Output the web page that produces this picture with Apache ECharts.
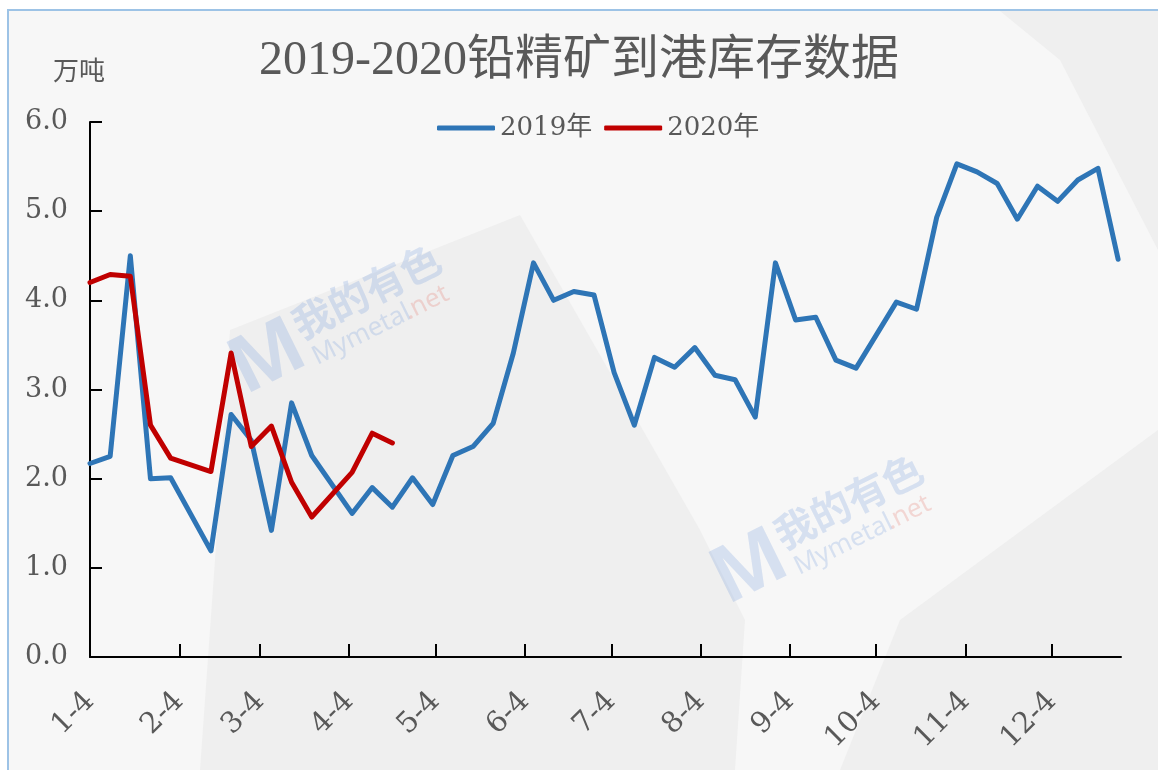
<!DOCTYPE html>
<html>
<head>
<meta charset="utf-8">
<script src="https://cdn.jsdelivr.net/npm/echarts@6/dist/echarts.min.js"></script>
<style>
  html, body { margin: 0; padding: 0; background: #fff; }
  #chart { width: 1158px; height: 770px; }
</style>
</head>
<body>
<div id="chart"></div>
<script>
// 周度日期（按2019年周五排列，2020年数据对齐到同一周位置）
const weeks = [
  '2019-01-04', '2019-01-11', '2019-01-18', '2019-01-25', '2019-02-01',
  '2019-02-15', '2019-02-22', '2019-03-01', '2019-03-08', '2019-03-15', '2019-03-22',
  '2019-04-05', '2019-04-12', '2019-04-19', '2019-04-26',
  '2019-05-03', '2019-05-10', '2019-05-17', '2019-05-24', '2019-05-31',
  '2019-06-07', '2019-06-14', '2019-06-21', '2019-06-28',
  '2019-07-05', '2019-07-12', '2019-07-19', '2019-07-26',
  '2019-08-02', '2019-08-09', '2019-08-16', '2019-08-23', '2019-08-30',
  '2019-09-06', '2019-09-13', '2019-09-20', '2019-09-27',
  '2019-10-04', '2019-10-11', '2019-10-18', '2019-10-25',
  '2019-11-01', '2019-11-08', '2019-11-15', '2019-11-22', '2019-11-29',
  '2019-12-06', '2019-12-13', '2019-12-20', '2019-12-27'
];

// 2019年 铅精矿到港库存（万吨）
const stock2019 = [
  2.17, 2.25, 4.50, 2.00, 2.01,
  1.19, 2.72, 2.43, 1.42, 2.85, 2.26,
  1.61, 1.90, 1.68, 2.01,
  1.71, 2.26, 2.36, 2.62, 3.41,
  4.42, 4.00, 4.10, 4.06,
  3.19, 2.60, 3.36, 3.25,
  3.47, 3.16, 3.11, 2.69, 4.42,
  3.78, 3.81, 3.33, 3.24,
  3.61, 3.98, 3.90, 4.93,
  5.53, 5.44, 5.31, 4.91, 5.28,
  5.11, 5.35, 5.48, 4.46
];

// 2020年 铅精矿到港库存（万吨）
const stock2020 = [
  4.20, 4.29, 4.27, 2.60, 2.23,
  2.08, 3.41, 2.36, 2.59, 1.96, 1.57,
  2.07, 2.51, 2.40
];

// x轴刻度（每月4日）
const monthTicks = [
  '2019-01-04', '2019-02-04', '2019-03-04', '2019-04-04', '2019-05-04', '2019-06-04',
  '2019-07-04', '2019-08-04', '2019-09-04', '2019-10-04', '2019-11-04', '2019-12-04'
];
const monthLabels = ['1-4', '2-4', '3-4', '4-4', '5-4', '6-4', '7-4', '8-4', '9-4', '10-4', '11-4', '12-4'];
const axisEnd = '2019-12-28';

const seriesNames = ['2019年', '2020年'];

// 日期 -> 距1月4日的天数
const DAY = 86400000;
const t0 = Date.UTC(2019, 0, 4);
const dayOf = (s) => {
  const [y, m, d] = s.split('-').map(Number);
  return Math.round((Date.UTC(y, m - 1, d) - t0) / DAY);
};
const tickDays = monthTicks.map(dayOf);

const serifFont = '"DejaVu Serif", "Noto Sans CJK SC", serif';
const textGray = '#595959';

const chart = echarts.init(document.getElementById('chart'));

const watermark = (x, y) => ({
  type: 'group', z: -5, silent: true, x: x, y: y, rotation: 0.46,
  children: [
    { type: 'text', x: 0, y: -50, style: { text: 'M', font: 'bold 78px "Noto Sans"', fill: 'rgba(120,160,220,0.26)' } },
    { type: 'text', x: 75, y: -48, style: { text: '我的有色', font: 'bold 40px "Noto Sans CJK SC"', fill: 'rgba(120,160,220,0.26)' } },
    { type: 'text', x: 78, y: -4, style: { text: 'Mymetal', font: '26px "Noto Sans"', fill: 'rgba(120,160,220,0.26)' } },
    { type: 'text', x: 180, y: -4, style: { text: '.net', font: '26px "Noto Sans"', fill: 'rgba(230,130,120,0.28)' } }
  ]
});

const option = {
  backgroundColor: '#ffffff',
  animation: false,
  graphic: [
    {
      type: 'rect', z: -10, silent: true,
      shape: { x: 8, y: 10, width: 1300, height: 900 },
      style: { fill: '#f7f7f7', stroke: '#9dc3e6', lineWidth: 2 }
    },
    {
      type: 'polygon', z: -9, silent: true,
      shape: { points: [[200, 770], [215, 560], [230, 330], [520, 215], [700, 530], [745, 620], [735, 770]] },
      style: { fill: '#efefef' }
    },
    {
      type: 'polygon', z: -9, silent: true,
      shape: { points: [[840, 770], [900, 620], [1158, 430], [1158, 770]] },
      style: { fill: '#efefef' }
    },
    {
      type: 'polygon', z: -9, silent: true,
      shape: { points: [[1000, 11], [1158, 11], [1158, 250], [1060, 60]] },
      style: { fill: '#efefef' }
    },
    // 水印
    watermark(240, 385),
    watermark(722, 595)
  ],
  title: {
    text: '2019-2020铅精矿到港库存数据',
    left: 'center',
    top: 32,
    textStyle: {
      fontFamily: '"Liberation Serif", "Noto Sans CJK SC", serif',
      fontSize: 48,
      fontWeight: 'normal',
      color: textGray
    }
  },
  legend: {
    data: seriesNames,
    left: 432,
    top: 110,
    icon: 'roundRect',
    itemWidth: 58,
    itemHeight: 5,
    itemGap: 12,
    textStyle: {
      fontFamily: serifFont,
      fontSize: 26,
      color: textGray
    }
  },
  grid: {
    left: 90,
    right: 37,
    top: 122,
    bottom: 113,
    containLabel: false
  },
  xAxis: {
    type: 'value',
    min: 0,
    max: dayOf(axisEnd),
    splitLine: { show: false },
    axisLine: { onZero: false, lineStyle: { color: '#000', width: 2 } },
    axisTick: {
      show: true,
      inside: true,
      length: 13,
      customValues: tickDays,
      lineStyle: { color: '#000', width: 2 }
    },
    axisLabel: {
      customValues: tickDays,
      rotate: 45,
      margin: 40,
      fontFamily: serifFont,
      fontSize: 29,
      color: textGray,
      formatter: (val) => {
        const idx = tickDays.indexOf(Math.round(val));
        return idx >= 0 ? monthLabels[idx] : '';
      }
    }
  },
  yAxis: {
    type: 'value',
    min: 0,
    max: 6,
    interval: 1,
    name: '万吨',
    nameLocation: 'end',
    nameGap: 36,
    nameTextStyle: {
      fontFamily: serifFont,
      fontSize: 26,
      color: textGray,
      align: 'center',
      padding: [0, 22, 0, 0]
    },
    splitLine: { show: false },
    axisLine: { show: true, lineStyle: { color: '#000', width: 2 } },
    axisTick: { show: true, inside: true, length: 12, lineStyle: { color: '#000', width: 2 } },
    axisLabel: {
      margin: 22,
      fontFamily: serifFont,
      fontSize: 27,
      color: textGray,
      formatter: (v) => v.toFixed(1)
    }
  },
  series: [
    {
      name: seriesNames[0],
      type: 'line',
      symbol: 'none',
      data: weeks.map((d, i) => [dayOf(d), stock2019[i]]),
      lineStyle: { color: '#2e75b6', width: 5, cap: 'round', join: 'round' },
      itemStyle: { color: '#2e75b6' },
      z: 3
    },
    {
      name: seriesNames[1],
      type: 'line',
      symbol: 'none',
      data: stock2020.map((v, i) => [dayOf(weeks[i]), v]),
      lineStyle: { color: '#c00000', width: 5, cap: 'round', join: 'round' },
      itemStyle: { color: '#c00000' },
      z: 4
    }
  ]
};

chart.setOption(option);
</script>
</body>
</html>
